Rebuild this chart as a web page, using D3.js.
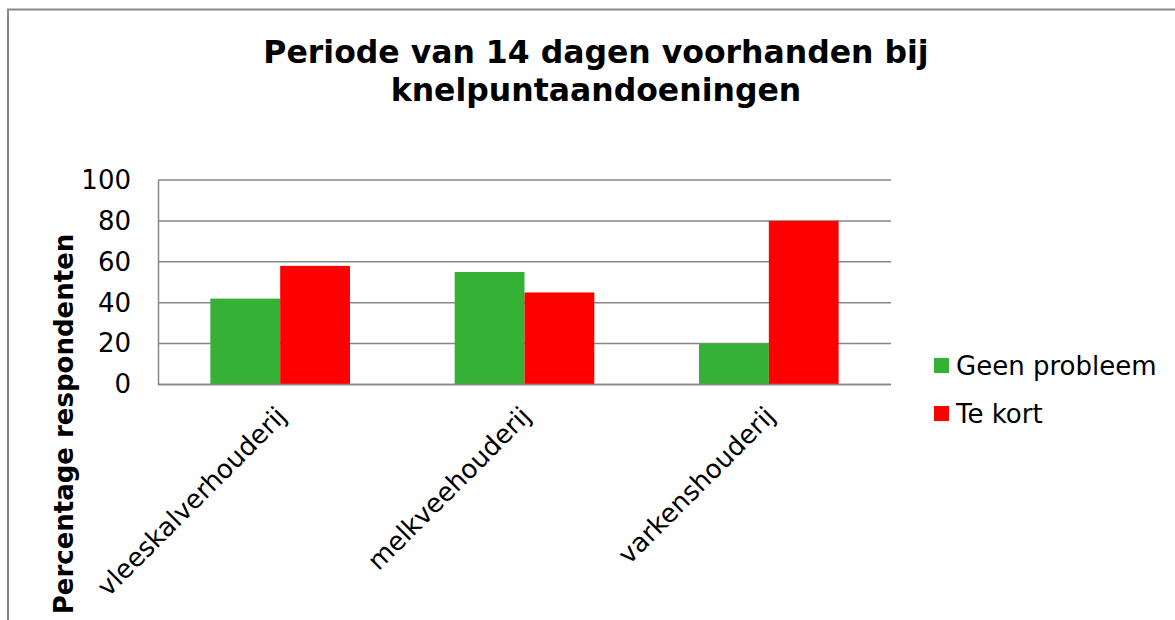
<!DOCTYPE html>
<html>
<head>
<meta charset="utf-8">
<script src="https://cdn.jsdelivr.net/npm/d3@7"></script>
<style>
  body { margin: 0; background: #fff; }
  text { font-family: "DejaVu Sans", Verdana, sans-serif; fill: #000; }
</style>
</head>
<body>
<div class="chart"></div>
<script>
// ============================================================================
// Data
// ============================================================================

var categories = ['vleeskalverhouderij', 'melkveehouderij', 'varkenshouderij'];
var seriesNames = ['Geen probleem', 'Te kort'];
var geenProbleem = [42, 55, 20];
var teKort = [58, 45, 80];
var yTicks = [0, 20, 40, 60, 80, 100];
var seriesColors = ['#35b236', '#ff0000'];

var titleLines = ['Periode van 14 dagen voorhanden bij', 'knelpuntaandoeningen'];
var yTitle = 'Percentage respondenten';

// ============================================================================
// Create SVG
// ============================================================================

var svgWidth = 1175;
var svgHeight = 620;

var plot = { left: 158, right: 891, top: 180, bottom: 384.5 };

var svg = d3.select('.chart')
  .append('svg')
  .attr('width', svgWidth)
  .attr('height', svgHeight);

// outer chart frame (runs past the window on right and bottom)
svg.append('rect')
  .attr('x', 8)
  .attr('y', 9.5)
  .attr('width', 1300)
  .attr('height', 800)
  .attr('fill', 'none')
  .attr('stroke', '#878787')
  .attr('stroke-width', 2);

// title
svg.append('text')
  .attr('text-anchor', 'middle')
  .style('font-size', '31.5px')
  .style('font-weight', 'bold')
  .selectAll('tspan')
  .data(titleLines)
  .enter()
    .append('tspan')
    .attr('x', 596)
    .attr('y', (d, i) => 63 + i * 38)
    .text(d => d);

// ============================================================================
// Scales and axes
// ============================================================================

var x0 = d3.scaleBand()
  .domain(categories)
  .range([plot.left, plot.right]);

var x1 = d3.scaleBand()
  .domain(seriesNames)
  .range([0, x0.bandwidth()])
  .paddingInner(0)
  .paddingOuter(0.75);

var y = d3.scaleLinear()
  .domain([0, 100])
  .range([plot.bottom, plot.top]);

// gridlines
svg.append('g')
  .selectAll('line')
  .data(yTicks)
  .enter()
    .append('line')
    .attr('x1', plot.left)
    .attr('x2', plot.right)
    .attr('y1', d => y(d))
    .attr('y2', d => y(d))
    .attr('stroke', '#878787')
    .attr('stroke-width', 1.5);

// bars
var table = categories.map((c, i) => ({ cat: c, values: [geenProbleem[i], teKort[i]] }));

svg.append('g')
  .selectAll('g')
  .data(table)
  .enter()
    .append('g')
    .attr('transform', d => `translate(${x0(d.cat)}, 0)`)
    .selectAll('rect')
    .data(d => d.values.map((v, j) => ({ name: seriesNames[j], value: v, color: seriesColors[j] })))
    .enter()
      .append('rect')
      .attr('x', d => x1(d.name))
      .attr('y', d => y(d.value))
      .attr('width', x1.bandwidth())
      .attr('height', d => y(0) - y(d.value))
      .attr('fill', d => d.color);

// y axis
var yAxis = d3.axisLeft(y)
  .tickValues(yTicks)
  .tickSize(0)
  .tickPadding(27);

var yAxisG = svg.append('g')
  .attr('transform', `translate(${plot.left}, 0)`)
  .call(yAxis);

yAxisG.select('.domain')
  .attr('stroke', '#878787')
  .attr('stroke-width', 1.5);

yAxisG.selectAll('text')
  .style('font-size', '26px')
  .style('font-family', '"DejaVu Sans", Verdana, sans-serif');

// baseline redrawn on top of bars
svg.append('line')
  .attr('x1', plot.left)
  .attr('x2', plot.right)
  .attr('y1', y(0))
  .attr('y2', y(0))
  .attr('stroke', '#878787')
  .attr('stroke-width', 1.5);

// category labels, rotated
svg.append('g')
  .selectAll('text')
  .data(categories)
  .enter()
    .append('text')
    .attr('text-anchor', 'end')
    .attr('transform', d => `translate(${x0(d) + x0.bandwidth() / 2 - 6}, 404) rotate(-45)`)
    .attr('dy', '0.75em')
    .style('font-size', '26px')
    .text(d => d);

// y title
svg.append('text')
  .attr('text-anchor', 'middle')
  .attr('transform', 'translate(73, 424) rotate(-90)')
  .style('font-size', '26px')
  .style('font-weight', 'bold')
  .text(yTitle);

// ============================================================================
// Legend
// ============================================================================

var legend = svg.append('g')
  .selectAll('g')
  .data(seriesNames)
  .enter()
    .append('g')
    .attr('transform', (d, i) => `translate(934, ${358 + i * 48})`);

legend.append('rect')
  .attr('width', 15)
  .attr('height', 15)
  .attr('fill', (d, i) => seriesColors[i]);

legend.append('text')
  .attr('x', 22)
  .attr('y', 17)
  .style('font-size', '26px')
  .text(d => d);
</script>
</body>
</html>
